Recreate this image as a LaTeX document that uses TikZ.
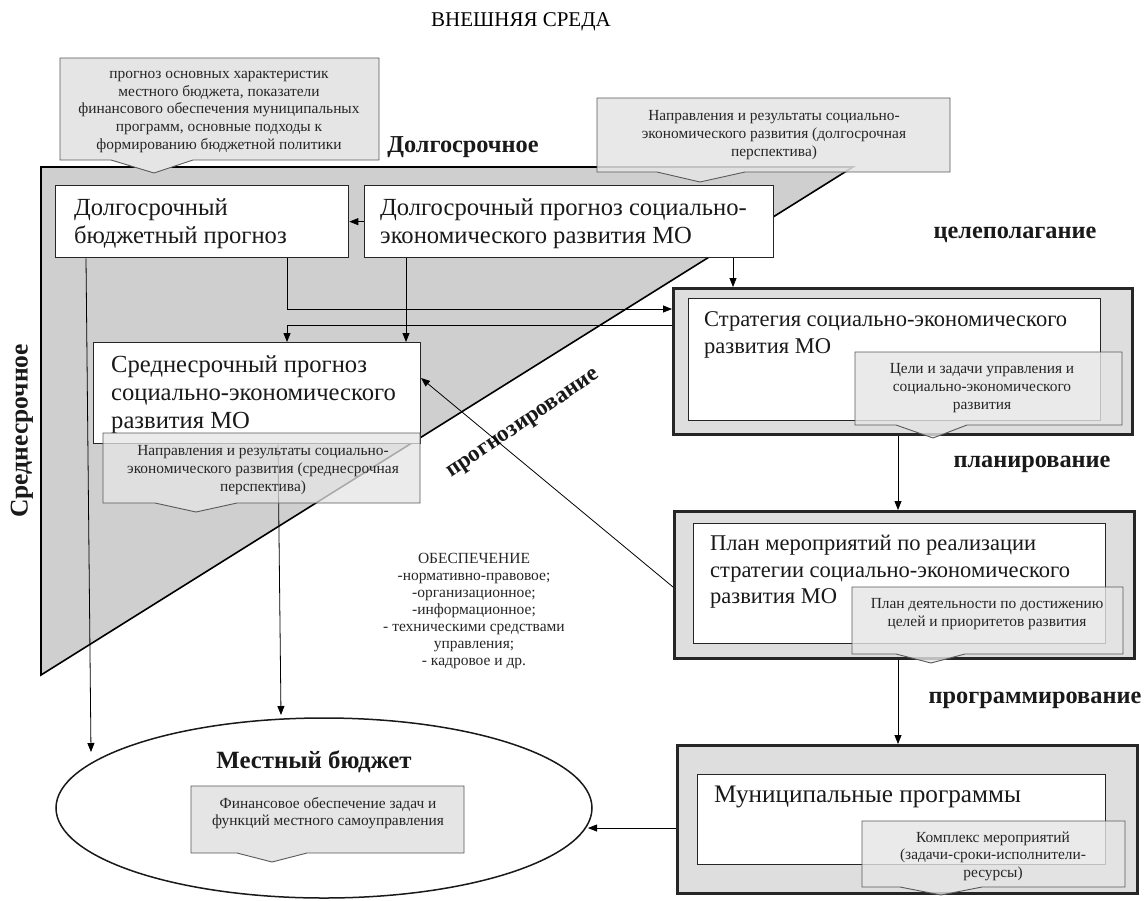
\documentclass[tikz,border=0pt]{standalone}
\usepackage{fontspec}
\setmainfont{Liberation Serif}
\usetikzlibrary{arrows.meta,shapes.geometric}
\begin{document}
\begin{tikzpicture}[x=1pt,y=-1pt,
  box/.style={draw=black!85, line width=1.3pt, fill=white, inner sep=0, anchor=north west},
  outerbox/.style={draw=black!85, line width=2.6pt, fill=black!13, inner sep=0, anchor=north west},
  bigtext/.style={font=\fontsize{24.6}{28}\selectfont, align=left, anchor=west, inner sep=0, text=black!90},
  midtext/.style={font=\fontsize{22.5}{26.5}\selectfont, align=left, anchor=west, inner sep=0, text=black!90},
  calltext/.style={font=\fontsize{15.4}{17.6}\selectfont, align=center, inner sep=0, text=black!85},
  callout/.style={draw=black!65, line width=0.9pt, fill=black!10},
  lbl/.style={font=\bfseries\fontsize{24.3}{27}\selectfont, inner sep=0, text=black!90},
  arr/.style={line width=0.8pt, -{Triangle[length=9pt,width=7pt]}},
  ln/.style={line width=0.8pt},
]
\useasboundingbox (0,0) rectangle (1145,900);
\fill[white] (0,0) rectangle (1145,900);

% title
\node[font=\fontsize{21}{24}\selectfont, inner sep=0] (title) at (521,22) {ВНЕШНЯЯ СРЕДА};

% big triangle
\draw[fill=black!19, line width=1.6pt, line join=miter] (853,167) -- (41,167) -- (41,675) -- cycle;

% callout 1
\draw[callout] (60,58) -- (379,58) -- (379,160) -- (193,160) -- (154,173) -- (111,160) -- (60,160) -- cycle;
\node[calltext] (c1) at (219,112) {прогноз основных характеристик\\местного бюджета, показатели\\финансового обеспечения муниципальных\\программ, основные подходы к\\формированию бюджетной политики};

% callout 2
\draw[callout, fill opacity=0.85] (597,98) -- (950,98) -- (950,172) -- (745,172) -- (700,182) -- (657,172) -- (597,172) -- cycle;
\node[calltext] (c2) at (774,135) {Направления и результаты социально-\\экономического развития (долгосрочная\\перспектива)};

\node[lbl] (dolg) at (463,147) {Долгосрочное};
\node[lbl] (celep) at (1015,235) {целеполагание};
\node[lbl] (plan) at (1032,464) {планирование};
\node[lbl] (progr) at (1035,700) {программирование};
\node[lbl, font=\bfseries\fontsize{25.5}{28}\selectfont, rotate=90] (sredn) at (22,431) {Среднесрочное};
\node[lbl, font=\bfseries\fontsize{23}{26}\selectfont, rotate=34] (prognoz) at (524,425) {прогнозирование};

% top boxes
\node[box, minimum width=293pt, minimum height=72pt] (b1) at (55,185) {};
\node[bigtext] (b1t) at (74,224) {Долгосрочный\\бюджетный прогноз};
\node[box, minimum width=409pt, minimum height=72pt] (b2) at (364,185) {};
\node[bigtext] (b2t) at (380,224) {Долгосрочный прогноз социально-\\экономического развития МО};

% medium box
\node[box, minimum width=327pt, minimum height=101pt] (m) at (93,342) {};
\node[bigtext] (mt) at (111,395) {Среднесрочный прогноз\\социально-экономического\\развития МО};

% strategy
\node[outerbox, minimum width=459pt, minimum height=146pt] (s) at (672,287) {};
\node[box, minimum width=412pt, minimum height=122pt] (si) at (688,298) {};
\node[midtext] (st) at (704,335) {Стратегия социально-экономического\\развития МО};

% plan
\node[outerbox, minimum width=460pt, minimum height=147pt] (p) at (673,510) {};
\node[box, minimum width=412pt, minimum height=120pt] (pi) at (693,523) {};
\node[midtext] (pt) at (710,572) {План мероприятий по реализации\\стратегии социально-экономического\\развития МО};

% municipal programs
\node[outerbox, minimum width=460pt, minimum height=148pt] (mp) at (676,744) {};
\node[box, minimum width=408pt, minimum height=90pt] (mpi) at (697,774) {};
\node[bigtext, font=\fontsize{25.2}{28}\selectfont] (mpt) at (714,797) {Муниципальные программы};

% ellipse
\node[draw=black!90, fill=white, ellipse, line width=1.5pt, minimum width=536pt, minimum height=180pt, inner sep=0] (ell) at (324,808) {};
\node[font=\bfseries\fontsize{24.8}{28}\selectfont, inner sep=0, text=black!90] (ellt) at (314,762) {Местный бюджет};

% coordinates for connectors
\coordinate (x86) at (86,0);
\coordinate (x91) at (91,752);
\coordinate (x278) at (278,0);
\coordinate (x281) at (281,715);
\coordinate (x287) at (287,0);
\coordinate (x406) at (406,0);
\coordinate (x733) at (733,0);
\coordinate (x898) at (898,0);
\coordinate (y309) at (0,309);
\coordinate (y325) at (0,325);
\coordinate (y587) at (0,587);
\coordinate (y828) at (0,828);
\coordinate (mr) at (421,378);
\coordinate (er) at (588,828);

% connectors
\draw[arr] (b1.south -| x86) -- (x91);
\draw[arr] (m.south -| x278) -- (x281);
\draw[arr] (b2.west) -- (b1.east);
\draw[arr] (b2.south -| x406) -- (m.north -| x406);
\draw[arr] (b2.south -| x733) -- (s.north -| x733);
\draw[arr] (b1.south -| x287) -- (x287 |- y309) -- (s.west |- y309);
\draw[arr] (s.west |- y325) -- (x287 |- y325) -- (m.north -| x287);
\draw[arr] (s.south -| x898) -- (p.north -| x898);
\draw[arr] (p.south -| x898) -- (mp.north -| x898);
\draw[arr] (p.west |- y587) -- (mr);
\draw[arr] (mp.west |- y828) -- (er);

% medium callout (semi transparent)
\draw[callout, fill opacity=0.75] (103,433) -- (420,433) -- (420,503) -- (237,503) -- (196,512) -- (155,503) -- (103,503) -- cycle;
\node[calltext] (mc) at (263,470) {Направления и результаты социально-\\экономического развития (среднесрочная\\перспектива)};

% strategy callout
\draw[callout, fill opacity=0.8] (855,352) -- (1122,352) -- (1122,425) -- (967,425) -- (933,438) -- (896,425) -- (855,425) -- cycle;
\node[calltext] (sc) at (982,388) {Цели и задачи управления и\\социально-экономического\\развития};

% plan callout
\draw[callout, fill opacity=0.8] (852,587) -- (1123,587) -- (1123,654) -- (965,654) -- (931,663) -- (896,654) -- (852,654) -- cycle;
\node[calltext] (pc) at (987,614) {План деятельности по достижению\\целей и приоритетов развития};

% municipal callout
\draw[callout, fill opacity=0.8] (862,821) -- (1125,821) -- (1125,887) -- (982,887) -- (941,895) -- (900,887) -- (862,887) -- cycle;
\node[calltext] (mpc) at (993,856) {Комплекс мероприятий\\(задачи-сроки-исполнители-\\ресурсы)};

% ellipse callout
\draw[callout] (191,786) -- (464,786) -- (464,853) -- (307,853) -- (272,862) -- (237,853) -- (191,853) -- cycle;
\node[calltext] (ec) at (328,813) {Финансовое обеспечение задач и\\функций местного самоуправления};

% provision text
\node[font=\fontsize{15.5}{17}\selectfont, align=center, inner sep=0, text=black!85] (obesp) at (474,611) {ОБЕСПЕЧЕНИЕ\\-нормативно-правовое;\\-организационное;\\-информационное;\\- техническими средствами\\управления;\\- кадровое и др.};
\end{tikzpicture}
\end{document}
